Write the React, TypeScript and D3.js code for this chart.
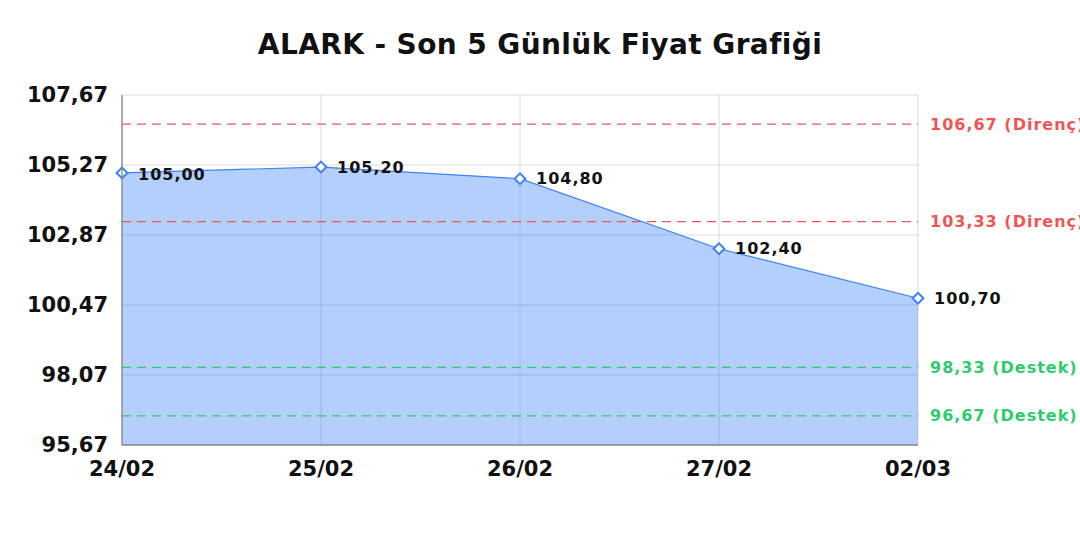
import React from "react";
import * as d3 from "d3";

const categories = ["24/02", "25/02", "26/02", "27/02", "02/03"];
const prices = [105.0, 105.2, 104.8, 102.4, 100.7];
const yTicks = [95.67, 98.07, 100.47, 102.87, 105.27, 107.67];
const resistance = [106.67, 103.33];
const support = [98.33, 96.67];

const W = 1080;
const H = 540;
const LEFT = 122;
const RIGHT = 918;
const TOP = 95;
const BOTTOM = 445;
const FONT = "'DejaVu Sans', sans-serif";

const fmt = (v: number) => v.toFixed(2).replace(".", ",");

export default function App() {
  const x = d3.scalePoint<string>().domain(categories).range([LEFT, RIGHT]);
  const y = d3.scaleLinear().domain([95.67, 107.67]).range([BOTTOM, TOP]);

  const pts: [number, number][] = prices.map((p, i) => [x(categories[i])!, y(p)]);
  const area = d3
    .area<[number, number]>()
    .x(d => d[0])
    .y0(BOTTOM)
    .y1(d => d[1]);
  const line = d3.line<[number, number]>().x(d => d[0]).y(d => d[1]);
  const marker = d3.symbol().type(d3.symbolSquare).size(58)()!;

  return (
    <svg
      width={W}
      height={H}
      style={{ position: "absolute", left: 0, top: 0, display: "block", background: "#fff" }}
      fontFamily={FONT}
    >
      <text x={540} y={54} textAnchor="middle" fontSize={28} fontWeight="bold" fill="#111" letterSpacing={0.4}>
        ALARK - Son 5 Günlük Fiyat Grafiği
      </text>

      {/* grid */}
      {yTicks.map(v => (
        <line key={v} x1={LEFT} x2={RIGHT} y1={y(v)} y2={y(v)} stroke="#e6e6e6" strokeWidth={1} />
      ))}
      {categories.map(c => (
        <line key={c} x1={x(c)} x2={x(c)} y1={TOP} y2={BOTTOM} stroke="#e6e6e6" strokeWidth={1} />
      ))}

      {/* area */}
      <path d={area(pts)!} fill="rgba(59,130,246,0.38)" />
      {yTicks.map(v => (
        <line key={"o" + v} x1={LEFT} x2={RIGHT} y1={y(v)} y2={y(v)} stroke="rgba(0,0,0,0.04)" />
      ))}
      {categories.map(c => (
        <line key={"o" + c} x1={x(c)} x2={x(c)} y1={TOP} y2={BOTTOM} stroke="rgba(0,0,0,0.04)" />
      ))}

      {/* reference lines */}
      {resistance.map(v => (
        <g key={v}>
          <line x1={LEFT} x2={RIGHT} y1={y(v)} y2={y(v)} stroke="#f05555" strokeWidth={1.3} strokeDasharray="9,6" />
          <text x={930} y={y(v)} dy="0.35em" fontSize={16} fontWeight="bold" fill="#f05555" letterSpacing={1}>
            {fmt(v)} (Direnç)
          </text>
        </g>
      ))}
      {support.map(v => (
        <g key={v}>
          <line x1={LEFT} x2={RIGHT} y1={y(v)} y2={y(v)} stroke="#2ecc6a" strokeWidth={1.3} strokeDasharray="9,6" />
          <text x={930} y={y(v)} dy="0.35em" fontSize={16} fontWeight="bold" fill="#2ecc6a" letterSpacing={1}>
            {fmt(v)} (Destek)
          </text>
        </g>
      ))}

      {/* line */}
      <path d={line(pts)!} fill="none" stroke="#3b82f6" strokeWidth={1.2} />
      {pts.map(([px, py], i) => (
        <g key={i}>
          <path
            d={marker}
            transform={`translate(${px},${py}) rotate(45)`}
            fill="#fff"
            stroke="#3b82f6"
            strokeWidth={2}
          />
          <text
            x={px + 16}
            y={py + (i === 0 ? 2 : 0)}
            dy="0.35em"
            fontSize={16}
            fontWeight="bold"
            fill="#111"
            letterSpacing={1}
          >
            {fmt(prices[i])}
          </text>
        </g>
      ))}

      {/* axes */}
      <line x1={LEFT} x2={LEFT} y1={TOP} y2={BOTTOM} stroke="#888" strokeWidth={1.3} />
      <line x1={LEFT} x2={RIGHT} y1={BOTTOM} y2={BOTTOM} stroke="#888" strokeWidth={1.3} />

      {yTicks.map(v => (
        <text key={v} x={108} y={y(v)} dy="0.35em" textAnchor="end" fontSize={21} fontWeight="bold" fill="#111">
          {fmt(v)}
        </text>
      ))}
      {categories.map(c => (
        <text key={c} x={x(c)} y={476} textAnchor="middle" fontSize={21} fontWeight="bold" fill="#111">
          {c}
        </text>
      ))}
    </svg>
  );
}
